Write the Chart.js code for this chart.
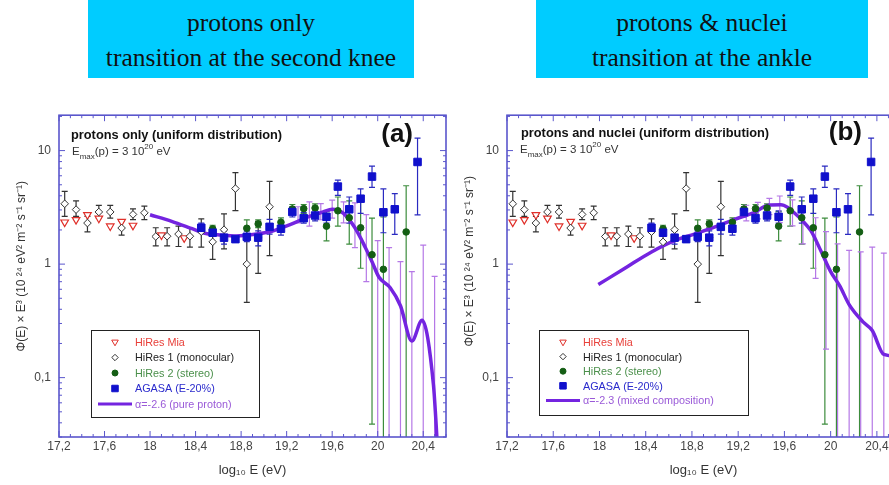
<!DOCTYPE html>
<html>
<head>
<meta charset="utf-8">
<script src="https://cdn.jsdelivr.net/npm/chart.js@4.4.1/dist/chart.umd.min.js"></script>
<style>
  html, body { margin: 0; padding: 0; background: #fff; width: 889px; height: 485px; overflow: hidden; position: relative; }
  .banner { position: absolute; top: 0; height: 78px; background: #00ccff; color: #111;
            font-family: "Liberation Serif", "DejaVu Serif", serif; font-size: 25.5px; text-align: center; padding-top: 5px; box-sizing: border-box; }
  .banner div { line-height: 35px; }
  canvas { position: absolute; top: 100px; }
</style>
</head>
<body>
<div class="banner" style="left:88px;width:326px"><div>protons only</div><div>transition at the second knee</div></div>
<div class="banner" style="left:536px;width:332px"><div>protons &amp; nuclei</div><div>transition at the ankle</div></div>
<canvas id="chartA" width="460" height="385" style="left:0px"></canvas>
<canvas id="chartB" width="466" height="385" style="left:448px"></canvas>
<script>
// axis ticks
const xTicks = [17.2, 17.6, 18, 18.4, 18.8, 19.2, 19.6, 20, 20.4];
const yTicks = [0.1, 1, 10];

// HiRes Mia
const miaE = [17.25, 17.35, 17.45, 17.55, 17.65, 17.75, 17.85, 18.1, 18.3];
const miaFlux = [2.34, 2.46, 2.72, 2.53, 2.16, 2.37, 2.19, 1.8, 1.7];

// HiRes 1 (monocular)
const hr1E = [17.25, 17.35, 17.45, 17.55, 17.65, 17.75, 17.85, 17.95, 18.05, 18.15, 18.25, 18.35, 18.45, 18.55, 18.65, 18.75, 18.85, 18.95, 19.05];
const hr1Flux = [3.4, 3.02, 2.3, 2.88, 2.88, 2.08, 2.74, 2.83, 1.75, 1.76, 1.84, 1.76, 1.93, 1.57, 2.01, 4.63, 1.0, 1.7, 3.2];
const hr1Hi = [4.37, 3.6, 2.63, 3.29, 3.29, 2.38, 3.06, 3.24, 2.09, 2.09, 2.16, 2.09, 2.5, 2.02, 2.77, 6.39, 1.8, 2.38, 5.35];
const hr1Lo = [2.63, 2.63, 1.92, 2.54, 2.54, 1.8, 2.47, 2.47, 1.45, 1.45, 1.43, 1.41, 1.41, 1.1, 1.36, 2.96, 0.46, 0.83, 1.19];

// HiRes 2 (stereo)
const hr2E = [18.55, 18.85, 18.95, 19.15, 19.25, 19.35, 19.45, 19.55, 19.65, 19.75, 19.85, 19.95, 20.05, 20.25];
const hr2Flux = [2.05, 2.07, 2.26, 2.34, 3.06, 3.08, 3.12, 2.16, 2.95, 2.56, 2.09, 1.21, 0.9, 1.92];
const hr2Hi = [2.2, 2.45, 2.45, 2.55, 3.35, 3.35, 3.4, 2.9, 3.9, 3.6, 3.8, 2.54, 2.6, 4.9];
const hr2Lo = [1.9, 1.75, 2.1, 2.15, 2.8, 2.8, 2.85, 1.6, 2.16, 1.5, 0.92, 0.039, 0.001, 0.001];

// AGASA (E-20%)
const agasaE = [18.45, 18.55, 18.65, 18.75, 18.85, 18.95, 19.05, 19.15, 19.25, 19.35, 19.45, 19.55, 19.65, 19.75, 19.85, 19.95, 20.05, 20.15, 20.35];
const agasaFlux = [2.09, 1.89, 1.71, 1.66, 1.74, 1.71, 2.13, 2.05, 2.88, 2.54, 2.68, 2.61, 4.82, 3.04, 3.77, 5.9, 2.86, 3.04, 7.94];
const agasaHi = [2.3, 2.02, 1.96, 1.78, 1.95, 1.96, 2.48, 2.35, 3.2, 2.85, 3.0, 2.95, 5.5, 3.9, 4.6, 7.3, 4.6, 4.17, 12.9];
const agasaLo = [1.89, 1.77, 1.5, 1.55, 1.58, 1.45, 1.84, 1.8, 2.6, 2.3, 2.4, 2.3, 4.03, 2.3, 2.8, 4.75, 1.89, 1.83, 2.72];

// model (a): pure proton, alpha = -2.6
const protonE = [18.0, 18.19, 18.37, 18.48, 18.63, 18.76, 18.92, 19.07, 19.23, 19.4, 19.52, 19.6, 19.65, 19.7, 19.8, 19.89, 19.95, 20.01, 20.11, 20.2, 20.3, 20.39, 20.49, 20.51, 20.53];
const protonFlux = [2.72, 2.38, 2.05, 1.87, 1.8, 1.77, 1.83, 1.95, 2.23, 2.63, 2.88, 3.04, 2.98, 2.8, 2.09, 1.41, 1.05, 0.77, 0.62, 0.43, 0.21, 0.32, 0.086, 0.044, 0.02];
const protonSimE = [19.3, 19.4, 19.5, 19.6, 19.7, 19.8, 19.9, 20.0, 20.1, 20.2, 20.3, 20.4, 20.5];
const protonSimHi = [3.2, 3.53, 3.41, 3.66, 3.53, 3.46, 2.73, 1.61, 1.4, 1.05, 0.86, 1.47, 0.78];
const protonSimLo = [2.31, 2.16, 2.46, 2.54, 2.31, 1.4, 0.7, 0.001, 0.001, 0.001, 0.001, 0.001, 0.001];

// model (b): mixed composition, alpha = -2.3
const mixedE = [17.99, 18.22, 18.45, 18.65, 18.82, 19.0, 19.17, 19.34, 19.46, 19.57, 19.63, 19.67, 19.76, 19.83, 19.92, 20.0, 20.08, 20.16, 20.28, 20.36, 20.46, 20.56];
const mixedFlux = [0.66, 0.92, 1.28, 1.61, 1.84, 2.13, 2.48, 2.86, 3.3, 3.33, 3.15, 2.92, 2.39, 1.96, 1.28, 0.86, 0.64, 0.44, 0.31, 0.26, 0.16, 0.155];
const mixedSimE = [19.27, 19.37, 19.47, 19.56, 19.67, 19.76, 19.87, 19.96, 20.06, 20.16, 20.26, 20.36, 20.46];
const mixedSimHi = [3.3, 3.5, 3.8, 3.98, 3.68, 3.22, 2.56, 1.93, 1.51, 1.32, 1.28, 1.41, 1.25];
const mixedSimLo = [2.4, 2.5, 2.73, 2.32, 2.17, 1.51, 0.75, 0.178, 0.001, 0.001, 0.001, 0.001, 0.001];

const yTitle = "Φ(E) × E³ (10 ²⁴ eV² m⁻² s⁻¹ sr⁻¹)";
const frameColor = "#5a56cc";
const font = "'Liberation Sans', Arial, sans-serif";

const pts = (xs, ys) => xs.map((x, i) => ({ x: x, y: ys[i] }));
const fmt = (v) => String(Math.round(v * 10) / 10).replace(".", ",");

// vertical error bars, drawn under the points
const errorBars = {
  id: "errorBars",
  beforeDatasetsDraw(chart) {
    const { ctx, chartArea: a, scales: { x, y } } = chart;
    ctx.save();
    ctx.beginPath();
    ctx.rect(a.left, a.top, a.width, a.height);
    ctx.clip();
    chart.data.datasets.forEach((ds) => {
      if (!ds.errHi) return;
      ctx.strokeStyle = ds.errColor;
      ctx.lineWidth = 1.2;
      ds.data.forEach((p, i) => {
        const px = x.getPixelForValue(p.x);
        const top = y.getPixelForValue(ds.errHi[i]);
        const bot = y.getPixelForValue(ds.errLo[i]);
        ctx.beginPath();
        ctx.moveTo(px, top);
        ctx.lineTo(px, bot);
        ctx.moveTo(px - 3, top);
        ctx.lineTo(px + 3, top);
        ctx.moveTo(px - 3, bot);
        ctx.lineTo(px + 3, bot);
        ctx.stroke();
      });
    });
    ctx.restore();
  },
};

// box with inward ticks on all four sides
const frame = {
  id: "frame",
  afterDatasetsDraw(chart) {
    const { ctx, chartArea: a, scales: { x, y } } = chart;
    ctx.save();
    ctx.strokeStyle = frameColor;
    ctx.lineWidth = 1;
    ctx.beginPath();
    for (let k = 0; k <= 34; k++) {
      const px = x.getPixelForValue(17.2 + k / 10);
      const len = k % 4 === 0 ? 6 : 3;
      ctx.moveTo(px, a.bottom);
      ctx.lineTo(px, a.bottom - len);
      ctx.moveTo(px, a.top);
      ctx.lineTo(px, a.top + len);
    }
    for (let d = -2; d <= 1; d++) {
      for (let m = 1; m <= 9; m++) {
        const v = m * Math.pow(10, d);
        if (v < y.min || v > y.max) continue;
        const py = y.getPixelForValue(v);
        const len = m === 1 ? 6 : 3;
        ctx.moveTo(a.left, py);
        ctx.lineTo(a.left + len, py);
        ctx.moveTo(a.right, py);
        ctx.lineTo(a.right - len, py);
      }
    }
    ctx.stroke();
    ctx.lineWidth = 1.6;
    ctx.strokeRect(a.left, a.top, a.width, a.height);
    ctx.restore();
  },
};

// y title, heading, tag and legend
const panelText = {
  id: "panelText",
  afterDraw(chart, args, opts) {
    const { ctx, chartArea: a } = chart;
    ctx.save();
    ctx.textBaseline = "middle";

    // rotated y-axis title, sitting a bit above the plot centre like the original
    ctx.save();
    ctx.translate(a.left - 37, a.top + opts.yTitleY);
    ctx.rotate(-Math.PI / 2);
    ctx.textAlign = "center";
    ctx.fillStyle = "#333";
    ctx.font = "12px " + font;
    ctx.fillText(yTitle, 0, 0);
    ctx.restore();

    ctx.fillStyle = "#111";
    ctx.font = "bold 12.8px " + font;
    ctx.fillText(opts.heading, a.left + opts.headX, a.top + opts.headY);

    // E_max(p) = 3 10^20 eV
    let cx = a.left + 13;
    const cy = a.top + opts.headY + 17;
    ctx.fillStyle = "#333";
    const part = (txt, size, dy) => {
      ctx.font = size + "px " + font;
      ctx.fillText(txt, cx, cy + dy);
      cx += ctx.measureText(txt).width;
    };
    part("E", 11.5, 0);
    part("max", 8, 5);
    part("(p) = 3 10", 11.5, 0);
    part("20", 8, -5);
    part(" eV", 11.5, 0);

    ctx.fillStyle = "#111";
    ctx.font = "bold 26px " + font;
    ctx.textAlign = "right";
    ctx.fillText(opts.tag, a.left + opts.tagX, a.top + opts.headY);
    ctx.textAlign = "left";

    // legend
    const lg = opts.legend;
    const bx = a.left + lg.x, by = a.bottom - lg.y;
    ctx.fillStyle = "#fff";
    ctx.fillRect(bx, by, lg.w, lg.h);
    ctx.strokeStyle = "#222";
    ctx.lineWidth = 1;
    ctx.strokeRect(bx + 0.5, by + 0.5, lg.w, lg.h);
    let row = 0;
    chart.data.datasets.forEach((ds) => {
      if (!ds.legendText) return;
      const ry = by + 12 + row * lg.step;
      if (ds.showLine) {
        ctx.strokeStyle = ds.borderColor;
        ctx.lineWidth = 3;
        ctx.beginPath();
        ctx.moveTo(bx + 7, ry);
        ctx.lineTo(bx + 41, ry);
        ctx.stroke();
      } else {
        ctx.fillStyle = ds.backgroundColor;
        ctx.strokeStyle = ds.borderColor;
        ctx.lineWidth = 1;
        Chart.helpers.drawPoint(ctx, { pointStyle: ds.pointStyle, rotation: ds.rotation || 0, radius: ds.legendRadius, borderWidth: 1 }, bx + 24, ry);
      }
      ctx.fillStyle = ds.legendColor;
      ctx.font = "10.8px " + font;
      ctx.fillText(ds.legendText, bx + 44, ry + 1);
      row++;
    });
    ctx.restore();
  },
};

function makePanel(id, cfg) {
  const datasets = [
    { legendText: "HiRes Mia", legendColor: "#e8403a", data: pts(miaE, miaFlux), pointStyle: "triangle", rotation: 180,
      pointRadius: 4.4, legendRadius: 3.8, borderColor: "#e0302a", backgroundColor: "#ffffff", borderWidth: 1.2, order: 4 },
    { legendText: "HiRes 1 (monocular)", legendColor: "#222", data: pts(hr1E, hr1Flux), errHi: hr1Hi, errLo: hr1Lo, errColor: "#333",
      pointStyle: "rectRot", pointRadius: 3.8, legendRadius: 3.2, borderColor: "#333", backgroundColor: "#ffffff", borderWidth: 1, order: 3 },
    { legendText: "HiRes 2 (stereo)", legendColor: "#4a8f4a", data: pts(hr2E, hr2Flux), errHi: hr2Hi, errLo: hr2Lo, errColor: "#3c8c3c",
      pointStyle: "circle", pointRadius: 3.3, legendRadius: 3, borderColor: "#145e14", backgroundColor: "#145e14", borderWidth: 1, order: 2 },
    { legendText: "AGASA (E-20%)", legendColor: "#2a2acc", data: pts(agasaE, agasaFlux), errHi: agasaHi, errLo: agasaLo, errColor: "#2a2ac0",
      pointStyle: "rect", pointRadius: 5.3, legendRadius: 4.6, borderColor: "#1010cc", backgroundColor: "#1010cc", borderWidth: 1, order: 1 },
    { legendText: cfg.curveLabel, legendColor: "#9a5ad8", data: pts(cfg.curveE, cfg.curveFlux), showLine: true, pointRadius: 0,
      borderColor: "#7424e0", borderWidth: 3.5, cubicInterpolationMode: "monotone", order: 5 },
    { data: pts(cfg.simE, cfg.simHi), errHi: cfg.simHi, errLo: cfg.simLo, errColor: "#b578e6", pointRadius: 0, order: 6 },
  ];
  return new Chart(document.getElementById(id), {
    type: "scatter",
    data: { datasets: datasets },
    options: {
      responsive: false,
      animation: false,
      layout: { padding: { top: cfg.padTop, right: 14, left: 0, bottom: 0 } },
      plugins: {
        legend: { display: false },
        tooltip: { enabled: false },
        panelText: cfg.text,
      },
      scales: {
        x: {
          type: "linear", min: 17.2, max: 20.6,
          afterBuildTicks: (s) => { s.ticks = xTicks.map((v) => ({ value: v })); },
          afterFit: (s) => { s.height = 48; },
          grid: { display: false, drawTicks: false },
          border: { display: false },
          ticks: { callback: (v) => fmt(v), autoSkip: false, maxRotation: 0, padding: 2, color: "#444", font: { family: font, size: 12 } },
          title: { display: true, text: "log₁₀ E (eV)", color: "#333", padding: { top: 0, bottom: 7 }, font: { family: font, size: 13 } },
        },
        y: {
          type: "logarithmic", min: 0.03, max: 20.5,
          afterBuildTicks: (s) => { s.ticks = yTicks.map((v) => ({ value: v })); },
          afterFit: (s) => { s.width = 59; },
          grid: { display: false, drawTicks: false },
          border: { display: false },
          ticks: { callback: (v) => String(v).replace(".", ","), autoSkip: false, padding: 8, color: "#444", font: { family: font, size: 12 } },
        },
      },
    },
    plugins: [errorBars, frame, panelText],
  });
}

document.addEventListener("DOMContentLoaded", () => {
  makePanel("chartA", {
    padTop: 6,
    curveLabel: "α=-2.6 (pure proton)",
    curveE: protonE, curveFlux: protonFlux,
    simE: protonSimE, simHi: protonSimHi, simLo: protonSimLo,
    text: { heading: "protons only (uniform distribution)", tag: "(a)", headX: 12, headY: 20, tagX: 354, yTitleY: 151,
            legend: { x: 32, y: 107, w: 168, h: 87, step: 15.5 } },
  });
  makePanel("chartB", {
    padTop: 8,
    curveLabel: "α=-2.3 (mixed composition)",
    curveE: mixedE, curveFlux: mixedFlux,
    simE: mixedSimE, simHi: mixedSimHi, simLo: mixedSimLo,
    text: { heading: "protons and nuclei (uniform distribution)", tag: "(b)", headX: 14, headY: 18, tagX: 355, yTitleY: 146,
            legend: { x: 32, y: 107, w: 209, h: 85, step: 14.6 } },
  });
});
</script>
</body>
</html>
